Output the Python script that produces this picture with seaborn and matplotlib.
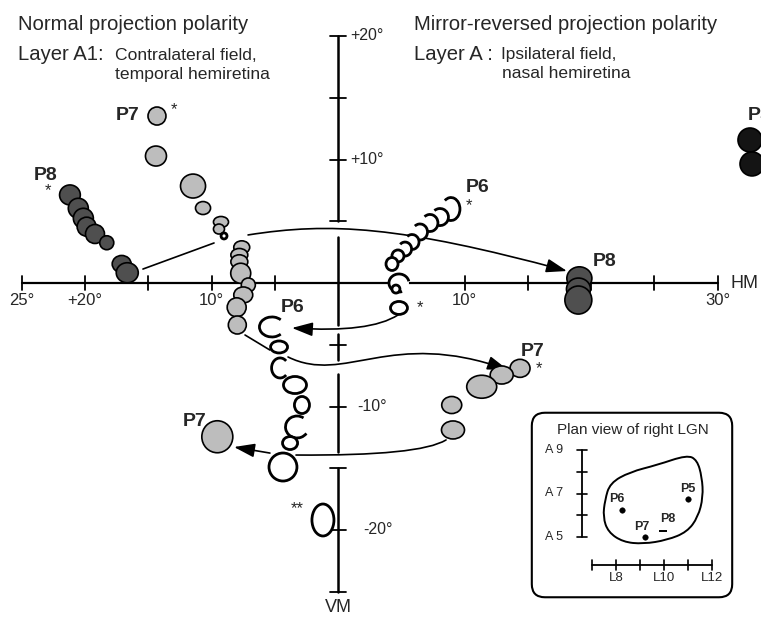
import numpy as np
import pandas as pd
import matplotlib
matplotlib.use("Agg")
import matplotlib.pyplot as plt
import seaborn as sns
from matplotlib.patches import Ellipse, Arc, FancyArrowPatch, FancyBboxPatch, PathPatch
from matplotlib.path import Path

# receptive fields in the visual field (deg). x: azimuth (left = contralateral), y: elevation
# listed in drawing order
rf_x = [-21.19, -20.53, -20.13, -19.87, -19.21, -18.28, -17.10, -16.66,          # P8, layer A1
        -14.31, -14.39, -11.46, -10.67, -9.25, -9.41, -9.01,                      # P7, layer A1
        -7.61, -7.80, -7.80, -7.69, -7.09, -7.49, -8.01, -7.96,
        -5.22, -4.66, -4.58, -3.40, -2.85, -3.24, -3.79, -4.35, -1.19,            # P6, layer A1
        -9.54,                                                                     # P7, layer A1
        8.93, 8.06, 7.27, 6.48, 5.85, 5.30, 4.74, 4.27, 4.82, 4.58, 4.82,         # P6, layer A
        14.39, 12.94, 11.36, 8.99, 9.09,                                           # P7, layer A
        19.08, 19.01, 19.00,                                                       # P8, layer A
        32.57, 32.73]                                                              # P5
rf_y = [7.13, 6.05, 5.24, 4.56, 3.97, 3.26, 1.54, 0.83,
        13.52, 10.28, 7.85, 6.07, 4.94, 4.37, 3.81,
        2.89, 2.27, 1.72, 0.79, -0.16, -0.97, -1.97, -3.40,
        -3.56, -5.18, -6.88, -8.26, -9.88, -11.66, -12.96, -14.90, -19.19,
        -12.45,
        5.99, 5.34, 4.86, 4.13, 3.32, 2.75, 2.19, 1.54, 0.00, -0.49, -2.02,
        -6.91, -7.45, -8.40, -9.88, -11.90,
        0.38, -0.49, -1.38,
        11.58, 9.64]
rf_w = [1.64, 1.58, 1.58, 1.50, 1.50, 1.11, 1.50, 1.74,
        1.42, 1.66, 1.98, 1.19, 1.19, 0.87, 0.47,
        1.26, 1.34, 1.34, 1.58, 1.11, 1.50, 1.50, 1.42,
        1.98, 1.34, 1.34, 1.82, 1.19, 1.82, 1.19, 2.21, 1.74,
        2.45,
        1.42, 1.34, 1.26, 1.19, 1.11, 1.03, 0.95, 0.95, 1.58, 0.63, 1.34,
        1.58, 1.82, 2.37, 1.58, 1.82,
        1.98, 1.90, 2.13,
        1.90, 1.90]
rf_h = [1.62, 1.62, 1.62, 1.54, 1.54, 1.13, 1.38, 1.62,
        1.46, 1.62, 1.94, 1.05, 0.89, 0.81, 0.49,
        1.05, 1.05, 1.13, 1.62, 1.13, 1.30, 1.54, 1.46,
        1.62, 0.97, 1.62, 1.38, 1.38, 1.78, 1.05, 2.27, 2.59,
        2.59,
        1.86, 1.38, 1.38, 1.30, 1.21, 1.13, 0.97, 1.05, 1.46, 0.65, 1.05,
        1.46, 1.46, 1.86, 1.38, 1.46,
        1.86, 1.78, 2.27,
        1.94, 1.94]
rf_kind = ["dark"] * 8 + ["grey"] * 6 + ["open"] + ["grey"] * 8 + ["open"] * 9 + ["grey"] \
    + ["open"] * 11 + ["grey"] * 5 + ["dark"] * 3 + ["black"] * 2
# C-shaped outlines: (direction of the gap, gap size) in degrees, 0 = closed outline
rf_gap = [(0, 0)] * 23 \
    + [(0, 80), (0, 0), (0, 100), (0, 0), (0, 0), (10, 90), (0, 0), (0, 0), (0, 0)] \
    + [(0, 0)] \
    + [(180, 110), (180, 100), (180, 100), (180, 100), (180, 100), (180, 90),
       (0, 0), (0, 0), (-30, 80), (0, 0), (0, 0)] \
    + [(0, 0)] * 10

# connections between successive receptive fields (deg)
arrow_paths = [
    [(-15.42, 1.13), (-9.80, 3.24)],
    [(-7.11, 3.89), (-0.63, 4.94), (4.90, 4.62), (18.10, 0.97)],
    [(4.74, -2.59), (2.53, -4.05), (-3.64, -3.64)],
    [(-7.35, -4.21), (-5.38, -5.43)],
    [(-3.95, -5.99), (0.55, -8.26), (4.11, -3.64), (13.44, -7.04)],
    [(8.54, -12.71), (6.48, -14.01), (-3.32, -13.93)],
    [(-5.38, -13.77), (-8.22, -13.28)],
]
arrow_head = [False, True, True, False, True, False, True]

# axes of the visual field
hm_ticks = [-25, -20, -15, -10, -5, 5, 10, 15, 20, 25, 30]
hm_labels = {-25: "25°", -20: "+20°", -10: "10°", 10: "10°", 30: "30°"}
vm_ticks = [20, 15, 10, 5, -5, -10, -15, -20, -25]
vm_labels = {20: "+20°", 10: "+10°", -10: "-10°", -20: "-20°"}
vm_segments = [(20, 5), (3.7, -3.4), (-4.1, -6.2), (-7.4, -13.7), (-15, -25)]

# inset: plan view of right LGN (L = lateral, A = anterior, mm)
lgn_L = [7.54, 7.75, 8.58, 9.71, 10.96, 11.38, 11.58, 11.63, 11.42, 10.96, 10.13, 9.13, 8.29, 7.67, 7.46]
lgn_A = [6.70, 7.48, 7.99, 8.31, 8.77, 8.54, 7.76, 6.84, 5.92, 5.23, 4.86, 4.68, 4.77, 5.23, 5.92]
site_name = ["P5", "P6", "P7"]
site_L = [11.0, 8.25, 9.21]
site_A = [6.75, 6.24, 5.00]
p8_L = [9.96]
p8_A = [5.28]
a_ticks = [5, 6, 7, 8, 9]
l_ticks = [7, 8, 9, 10, 11, 12]

fill = {"dark": "#4f4f4f", "grey": "#bdbdbd", "open": "white", "black": "#141414"}

sns.set_style("white")
plt.rcParams["font.family"] = ["Liberation Sans", "DejaVu Sans"]

W, H = 761, 619
X0, Y0, SX, SY = 338, 283, 12.65, 12.35

fig = plt.figure(figsize=(W / 100, H / 100), dpi=100)
ax = fig.add_axes([0, 0, 1, 1])
ax.set_xlim(-X0 / SX, (W - X0) / SX)
ax.set_ylim(-(H - Y0) / SY, Y0 / SY)
ax.axis("off")


def pxd(px, py):
    return (px - X0) / SX, (Y0 - py) / SY


# HM and VM
ax.plot([-25, 30], [0, 0], color="black", lw=1.6, zorder=1)
for t in hm_ticks:
    ax.plot([t, t], [-0.55, 0.55], color="black", lw=1.3, zorder=1)
for t, s in hm_labels.items():
    ax.text(t, -1.4, s, ha="center", va="center", fontsize=12)
for top, bot in vm_segments:
    ax.plot([0, 0], [top, bot], color="black", lw=1.8, zorder=1)
for t in vm_ticks:
    ax.plot([-0.6, 0.6], [t, t], color="black", lw=1.3, zorder=1)
for t, s in vm_labels.items():
    ax.text(1.0 + 0.05 * abs(t) * (t < 0), t, s, ha="left", va="center", fontsize=11.5)
ax.text(31.0, 0, "HM", ha="left", va="center", fontsize=13)
ax.text(0, -26.3, "VM", ha="center", va="center", fontsize=13)

# connecting arrows
for pts, head in zip(arrow_paths, arrow_head):
    if len(pts) == 4:
        codes = [Path.MOVETO, Path.CURVE4, Path.CURVE4, Path.CURVE4]
    elif len(pts) == 3:
        codes = [Path.MOVETO, Path.CURVE3, Path.CURVE3]
    else:
        codes = [Path.MOVETO, Path.LINETO]
    style = "-|>,head_length=0.9,head_width=0.3" if head else "-"
    ax.add_patch(FancyArrowPatch(path=Path(pts, codes), arrowstyle=style, mutation_scale=14,
                                 lw=1.2, color="black", zorder=2))

# receptive fields
for x, y, w, h, kind, (gc, gw) in zip(rf_x, rf_y, rf_w, rf_h, rf_kind, rf_gap):
    lw = 2.0 if kind == "open" else 1.2
    if gw == 0:
        ax.add_patch(Ellipse((x, y), w, h, facecolor=fill[kind], edgecolor="black", lw=lw, zorder=3))
    else:
        ax.add_patch(Ellipse((x, y), w, h, facecolor="white", edgecolor="none", zorder=3))
        ax.add_patch(Arc((x, y), w, h, theta1=gc + gw / 2, theta2=gc + 360 - gw / 2,
                         color="black", lw=lw, zorder=3))

# penetration labels
bold = dict(fontsize=14, fontweight="bold", ha="center", va="center")
ax.text(*pxd(128, 116), "P7", **bold)
ax.text(*pxd(46, 175), "P8", **bold)
ax.text(*pxd(293, 307), "P6", **bold)
ax.text(*pxd(478, 187), "P6", **bold)
ax.text(*pxd(605, 262), "P8", **bold)
ax.text(*pxd(533, 352), "P7", **bold)
ax.text(*pxd(195, 422), "P7", **bold)
ax.text(*pxd(748, 115), "P5", fontsize=14, fontweight="bold", ha="left", va="center")
for px, py in [(174, 110), (48, 191), (469, 206), (420, 308), (539, 369)]:
    ax.text(*pxd(px, py), "*", fontsize=12, ha="center", va="center")
ax.text(*pxd(297, 509), "**", fontsize=12, ha="center", va="center")

# headings
fig.text(18 / W, 1 - 29.5 / H, "Normal projection polarity", fontsize=14.6, va="baseline")
fig.text(18 / W, 1 - 59.5 / H, "Layer A1:", fontsize=14.6, va="baseline")
fig.text(115 / W, 1 - 59.5 / H, "Contralateral field,", fontsize=12.6, va="baseline")
fig.text(115 / W, 1 - 78.5 / H, "temporal hemiretina", fontsize=12.6, va="baseline")
fig.text(414 / W, 1 - 29.5 / H, "Mirror-reversed projection polarity", fontsize=14.6, va="baseline")
fig.text(414 / W, 1 - 59.5 / H, "Layer A :", fontsize=14.6, va="baseline")
fig.text(501 / W, 1 - 59.5 / H, "Ipsilateral field,", fontsize=12.4, va="baseline")
fig.text(502 / W, 1 - 78.5 / H, "nasal hemiretina", fontsize=12.6, va="baseline")

# inset
ax_in = fig.add_axes([531 / W, 1 - 598 / H, 202 / W, 186 / H])
ax_in.set_xlim(8 + (531 - 616) / 24, 8 + (733 - 616) / 24)
ax_in.set_ylim(5 + (537 - 598) / 21.75, 5 + (537 - 412) / 21.75)
ax_in.axis("off")
ax_in.add_patch(FancyBboxPatch((0.004, 0.004), 0.992, 0.992, boxstyle="round,pad=0,rounding_size=0.065",
                               mutation_aspect=202 / 186, transform=ax_in.transAxes,
                               facecolor="none", edgecolor="black", lw=1.5, clip_on=False))
ax_in.text(8.71, 9.92, "Plan view of right LGN", ha="center", va="center", fontsize=11)

bar_L = 6.58
ax_in.plot([bar_L, bar_L], [a_ticks[0], a_ticks[-1]], color="black", lw=1.3)
for t in a_ticks:
    ax_in.plot([bar_L - 0.21, bar_L + 0.21], [t, t], color="black", lw=1.2)
for t in [9, 7, 5]:
    ax_in.text(5.4, t, f"A {t}", ha="center", va="center", fontsize=9)
bar_A = 3.71
ax_in.plot([l_ticks[0], l_ticks[-1]], [bar_A, bar_A], color="black", lw=1.3)
for t in l_ticks:
    ax_in.plot([t, t], [bar_A - 0.23, bar_A + 0.23], color="black", lw=1.2)
for t in [8, 10, 12]:
    ax_in.text(t, 3.1, f"L{t}", ha="center", va="center", fontsize=9.5)

pts = np.column_stack([lgn_L, lgn_A])
mids = (pts + np.roll(pts, -1, axis=0)) / 2
verts = [mids[-1]]
codes = [Path.MOVETO]
for p, m in zip(pts, mids):
    verts += [p, m]
    codes += [Path.CURVE3, Path.CURVE3]
ax_in.add_patch(PathPatch(Path(verts, codes), facecolor="none", lw=1.4, edgecolor="black"))

sites = pd.DataFrame({"site": site_name, "L": site_L, "A": site_A})
sns.scatterplot(data=sites, x="L", y="A", color="black", s=16, edgecolor="black", ax=ax_in, zorder=3)
sns.scatterplot(x=p8_L, y=p8_A, marker="_", color="black", s=30, linewidth=1.4, ax=ax_in, zorder=3)
offsets = {"P5": (0.0, 0.46), "P6": (-0.2, 0.5), "P7": (-0.13, 0.46)}
for _, r in sites.iterrows():
    dx, dy = offsets[r["site"]]
    ax_in.text(r["L"] + dx, r["A"] + dy, r["site"], ha="center", va="center", fontsize=9, fontweight="bold")
ax_in.text(p8_L[0] + 0.21, p8_A[0] + 0.55, "P8", ha="center", va="center", fontsize=9, fontweight="bold")
ax_in.set_xlabel("")
ax_in.set_ylabel("")

fig.savefig("out.png", dpi=100)
